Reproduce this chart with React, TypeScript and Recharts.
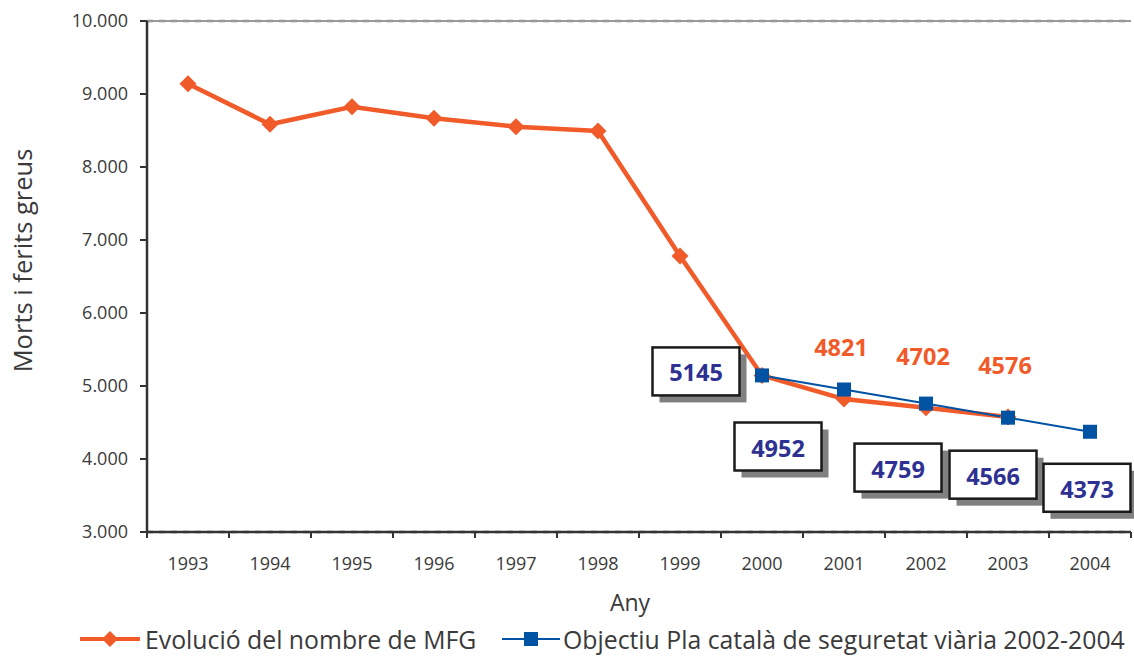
import React from "react";
import { LineChart, Line, XAxis, YAxis, CartesianGrid, ReferenceLine, Legend } from "recharts";

const years = ["1993", "1994", "1995", "1996", "1997", "1998", "1999", "2000", "2001", "2002", "2003", "2004"];
const mfg: (number | null)[] = [9140, 8585, 8826, 8667, 8552, 8493, 6781, 5145, 4821, 4702, 4576, null];
const objectiu: (number | null)[] = [null, null, null, null, null, null, null, 5145, 4952, 4759, 4566, 4373];
const yTicks = [3000, 4000, 5000, 6000, 7000, 8000, 9000, 10000];
const mfgName = "Evolució del nombre de MFG";
const objName = "Objectiu Pla català de seguretat viària 2002-2004";
const yTitle = "Morts i ferits greus";
const xTitle = "Any";

const data = years.map((y, i) => ({ year: y, mfg: mfg[i], obj: objectiu[i] }));

// label placement (style)
const boxOffsets: [number, number][] = [
  [-66, -4],
  [-66, 57],
  [-28, 64],
  [-15, 57],
  [-3, 56],
];
const firstObjIndex = objectiu.findIndex((v) => v !== null);

const ORANGE = "#F15A29";
const BLUE = "#0052A3";
const LABEL_BLUE = "#2E3192";
const TEXT = "#3a3a3a";
const FONT = "'Open Sans', sans-serif";

const fmt = (v: number) => String(v).replace(/\B(?=(\d{3})+(?!\d))/g, ".");

const Diamond = (props: any) => {
  const { cx, cy, index } = props;
  if (cy == null || cx == null) return <g key={`d${index}`} />;
  const r = 8.5;
  return (
    <polygon
      key={`d${index}`}
      points={`${cx},${cy - r} ${cx + r},${cy} ${cx},${cy + r} ${cx - r},${cy}`}
      fill={ORANGE}
    />
  );
};

const Square = (props: any) => {
  const { cx, cy, index } = props;
  if (cy == null || cx == null) return <g key={`s${index}`} />;
  const s = 14;
  return <rect key={`s${index}`} x={cx - s / 2} y={cy - s / 2} width={s} height={s} fill={BLUE} />;
};

const OrangeLabel = (props: any) => {
  const { x, y, index, value } = props;
  if (value == null || index <= firstObjIndex) return null;
  return (
    <text x={x - 3} y={y - 52} textAnchor="middle" dominantBaseline="central" fill={ORANGE}
      fontFamily={FONT} fontWeight={700} fontSize={23.5}>
      {value}
    </text>
  );
};

const BoxLabel = (props: any) => {
  const { x, y, index, value } = props;
  if (value == null) return null;
  const off = boxOffsets[index - firstObjIndex] || [0, 0];
  const w = 87, h = 48;
  const cx = x + off[0], cy = y + off[1];
  return (
    <g>
      <rect x={cx - w / 2 + 7} y={cy - h / 2 + 7} width={w} height={h} fill="#808080" />
      <rect x={cx - w / 2} y={cy - h / 2} width={w} height={h} fill="#fff" stroke="#1a1a1a" strokeWidth={2.5} />
      <text x={cx} y={cy + 1} textAnchor="middle" dominantBaseline="central" fill={LABEL_BLUE}
        fontFamily={FONT} fontWeight={700} fontSize={23.5}>
        {value}
      </text>
    </g>
  );
};

const XTick = (props: any) => {
  const { x, y, payload, index } = props;
  const half = 41;
  return (
    <g>
      <line x1={x - half} y1={y} x2={x - half} y2={y + 6} stroke="#333" strokeWidth={2} />
      {index === years.length - 1 && (
        <line x1={x + half} y1={y} x2={x + half} y2={y + 6} stroke="#333" strokeWidth={2} />
      )}
      <text x={x} y={y + 31} textAnchor="middle" dominantBaseline="central" fill={TEXT}
        fontFamily={FONT} fontSize={18}>
        {payload.value}
      </text>
    </g>
  );
};

const LegendContent = () => (
  <div style={{ position: "relative", height: 30, width: 1134, fontFamily: FONT, color: TEXT, fontSize: 24.8 }}>
    <div style={{ position: "absolute", left: 80, top: 0, height: 30, display: "flex", alignItems: "center" }}>
      <svg width={62} height={30}>
        <line x1={0} y1={15} x2={60} y2={15} stroke={ORANGE} strokeWidth={4} />
        <polygon points="30,7 38,15 30,23 22,15" fill={ORANGE} />
      </svg>
      <span style={{ marginLeft: 3, whiteSpace: "nowrap" }}>{mfgName}</span>
    </div>
    <div style={{ position: "absolute", left: 502, top: 0, height: 30, display: "flex", alignItems: "center" }}>
      <svg width={60} height={30}>
        <line x1={0} y1={15} x2={58} y2={15} stroke={BLUE} strokeWidth={2} />
        <rect x={22} y={8} width={14} height={14} fill={BLUE} />
      </svg>
      <span style={{ marginLeft: 1, whiteSpace: "nowrap" }}>{objName}</span>
    </div>
  </div>
);

export default function App() {
  return (
    <div style={{ position: "absolute", left: 0, top: 0, width: 1134, height: 659, background: "#fff" }}>
      <LineChart width={1134} height={659} data={data} margin={{ top: 21, right: 3, left: 0, bottom: 5 }}>
        <CartesianGrid vertical={false} stroke="#808080" strokeWidth={2.5} strokeDasharray="6 6" />
        <XAxis
          dataKey="year"
          scale="band"
          height={92}
          tickSize={0}
          tickMargin={0}
          tickLine={false}
          interval={0}
          tick={<XTick />}
          axisLine={{ stroke: "#333", strokeWidth: 2.5 }}
          label={({ viewBox }: any) => (
            <text x={viewBox.x + viewBox.width / 2 - 9} y={602} textAnchor="middle" dominantBaseline="central"
              fill={TEXT} fontFamily={FONT} fontSize={23}>
              {xTitle}
            </text>
          )}
        />
        <YAxis
          yAxisId="l"
          width={147}
          domain={[3000, 10000]}
          ticks={yTicks}
          tickFormatter={fmt}
          tickSize={7}
          tickMargin={12}
          tickLine={{ stroke: "#333", strokeWidth: 2 }}
          axisLine={{ stroke: "#333", strokeWidth: 2.5 }}
          tick={{ fill: TEXT, fontFamily: FONT, fontSize: 18 }}
          interval={0}
          label={({ viewBox }: any) => (
            <text transform={`translate(22, ${viewBox.y + viewBox.height / 2 - 16}) rotate(-90)`} textAnchor="middle"
              dominantBaseline="central" fill={TEXT} fontFamily={FONT} fontSize={25.5}>
              {yTitle}
            </text>
          )}
        />
        <YAxis yAxisId="r" orientation="right" width={0} tick={false} tickLine={false}
          axisLine={{ stroke: "#999", strokeWidth: 2 }} domain={[3000, 10000]} />
        <ReferenceLine yAxisId="l" y={10000} stroke="#999" strokeWidth={2} />
        <Line yAxisId="l" dataKey="mfg" name={mfgName} stroke={ORANGE} strokeWidth={4.5} dot={<Diamond />}
          activeDot={false} isAnimationActive={false} connectNulls={false} label={<OrangeLabel />} />
        <Line yAxisId="l" dataKey="obj" name={objName} stroke={BLUE} strokeWidth={2} dot={<Square />}
          activeDot={false} isAnimationActive={false} connectNulls={false} label={<BoxLabel />} />
        <Legend verticalAlign="bottom" height={30} content={<LegendContent />}
          wrapperStyle={{ left: 0, width: 1134, height: 30 }} />
      </LineChart>
    </div>
  );
}
